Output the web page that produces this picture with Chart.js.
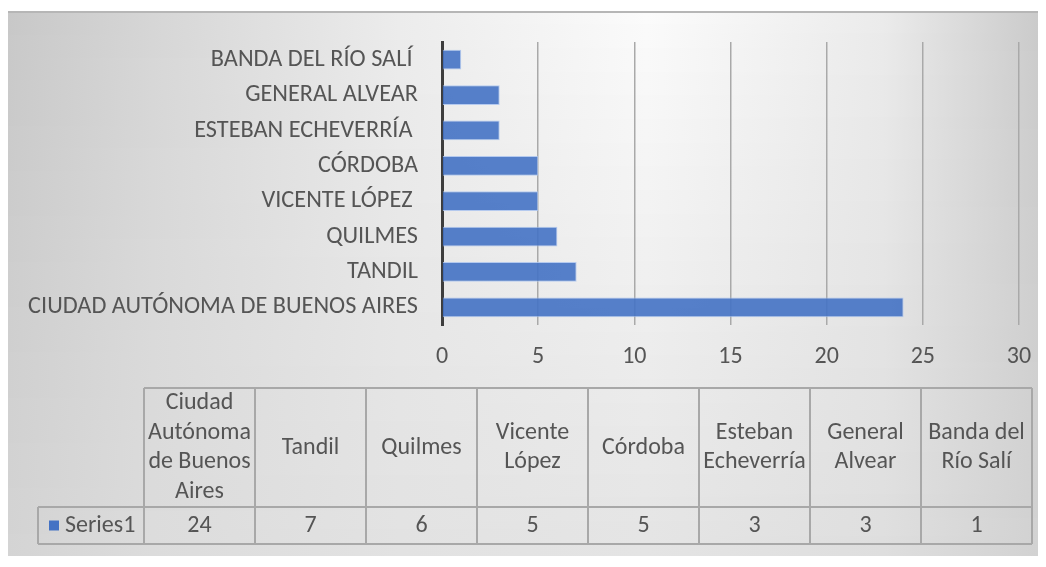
<!DOCTYPE html>
<html>
<head>
<meta charset="utf-8">
<script src="https://cdn.jsdelivr.net/npm/chart.js@4"></script>
<style>
  html, body { margin: 0; padding: 0; background: #ffffff; }
  #wrap { width: 1046px; height: 567px; }
</style>
</head>
<body>
<div id="wrap"><canvas id="chart" width="1046" height="567"></canvas></div>
<script>
// ---- data ----
const categories = ['Ciudad Autónoma de Buenos Aires', 'Tandil', 'Quilmes', 'Vicente López', 'Córdoba', 'Esteban Echeverría', 'General Alvear', 'Banda del Río Salí'];
const axisLabels = ['CIUDAD AUTÓNOMA DE BUENOS AIRES', 'TANDIL', 'QUILMES', 'VICENTE LÓPEZ ', 'CÓRDOBA', 'ESTEBAN ECHEVERRÍA ', 'GENERAL ALVEAR', 'BANDA DEL RÍO SALÍ '];
const series1 = [24, 7, 6, 5, 5, 3, 3, 1];
const seriesName = 'Series1';
const xTicks = [0, 5, 10, 15, 20, 25, 30];

// ---- style ----
const FONT = 'Carlito, Calibri, "Open Sans", sans-serif';
const TEXT = '#555555';
const BAR = '#4472C4';

Chart.defaults.font.family = FONT;
Chart.defaults.font.size = 24;
Chart.defaults.color = TEXT;

function lerp(a, b, t) { return a + (b - a) * t; }

const backgroundPlugin = {
  id: 'panelBackground',
  beforeDraw(chart) {
    const ctx = chart.ctx;
    const L = 8, T = 12, R = 1038, B = 556;
    ctx.save();
    ctx.fillStyle = '#ffffff';
    ctx.fillRect(0, 0, chart.width, chart.height);
    const stopsX = [0, 0.14, 0.38, 0.62, 0.85, 1];
    const topV = [200, 214, 236, 251, 235, 203];
    const botV = [212, 220, 226, 228, 222, 210];
    for (let y = T; y < B; y++) {
      const t = (y - T) / (B - T);
      const g = ctx.createLinearGradient(L, 0, R, 0);
      for (let i = 0; i < stopsX.length; i++) {
        const v = Math.round(lerp(topV[i], botV[i], t));
        g.addColorStop(stopsX[i], `rgb(${v},${v},${v})`);
      }
      ctx.fillStyle = g;
      ctx.fillRect(L, y, R - L, 1);
    }
    ctx.strokeStyle = '#b6b6b6';
    ctx.lineWidth = 2;
    ctx.beginPath();
    ctx.moveTo(L, T);
    ctx.lineTo(R, T);
    ctx.stroke();
    ctx.restore();
  }
};

const dataTablePlugin = {
  id: 'dataTable',
  afterDraw(chart) {
    const ctx = chart.ctx;
    const n = categories.length;
    const tableLeft = 144, tableRight = 1032;
    const legendLeft = 38;
    const top = 388, mid = 507, bottom = 544;
    const colW = (tableRight - tableLeft) / n;
    const lineH = 29.7;
    ctx.save();
    ctx.strokeStyle = '#a8a8a8';
    ctx.lineWidth = 2;
    ctx.beginPath();
    ctx.moveTo(tableLeft, top); ctx.lineTo(tableRight, top);
    ctx.moveTo(legendLeft, mid); ctx.lineTo(tableRight, mid);
    ctx.moveTo(legendLeft, bottom); ctx.lineTo(tableRight, bottom);
    ctx.moveTo(legendLeft, mid); ctx.lineTo(legendLeft, bottom);
    for (let i = 0; i <= n; i++) {
      const x = tableLeft + i * colW;
      ctx.moveTo(x, top); ctx.lineTo(x, bottom);
    }
    ctx.stroke();

    ctx.font = `24px ${FONT}`;
    ctx.fillStyle = TEXT;
    ctx.textAlign = 'center';
    ctx.textBaseline = 'middle';
    const maxW = colW - 4;
    function wrap(text) {
      const words = text.split(' ');
      const lines = [];
      let cur = '';
      for (const w of words) {
        const test = cur ? cur + ' ' + w : w;
        if (cur && ctx.measureText(test).width > maxW) { lines.push(cur); cur = w; }
        else cur = test;
      }
      if (cur) lines.push(cur);
      return lines;
    }
    const headCY = (top + mid) / 2;
    const valCY = (mid + bottom) / 2;
    categories.forEach((cat, i) => {
      const cx = tableLeft + (i + 0.5) * colW;
      const lines = wrap(cat);
      const start = headCY - (lines.length - 1) * lineH / 2;
      lines.forEach((ln, k) => ctx.fillText(ln, cx, start + k * lineH));
      ctx.fillText(String(series1[i]), cx, valCY);
    });
    ctx.fillStyle = BAR;
    ctx.fillRect(49, valCY - 5, 10, 10);
    ctx.fillStyle = TEXT;
    ctx.textAlign = 'left';
    ctx.fillText(seriesName, 65, valCY);
    ctx.restore();
  }
};

new Chart(document.getElementById('chart'), {
  type: 'bar',
  data: {
    labels: axisLabels,
    datasets: [{
      label: seriesName,
      data: series1,
      backgroundColor: 'rgba(68,114,196,0.9)',
      borderColor: 'rgba(170,195,238,0.85)',
      borderWidth: 1,
      barPercentage: 0.56,
      categoryPercentage: 1
    }]
  },
  options: {
    indexAxis: 'y',
    responsive: false,
    animation: false,
    devicePixelRatio: 1,
    layout: { padding: { left: 0, top: 42, right: 27, bottom: 0 } },
    plugins: { legend: { display: false }, tooltip: { enabled: false } },
    scales: {
      x: {
        min: 0,
        max: 30,
        afterBuildTicks(scale) { scale.ticks = xTicks.map(v => ({ value: v })); },
        afterFit(scale) { scale.height = 242; scale.paddingRight = 0; scale.paddingLeft = 0; },
        ticks: { padding: 18, color: TEXT, font: { size: 24 } },
        grid: {
          drawTicks: false,
          lineWidth: 1.5,
          color: (c) => (c.tick && c.tick.value === 0 ? 'rgba(0,0,0,0)' : '#a9a9a9')
        },
        border: { display: false }
      },
      y: {
        reverse: true,
        afterFit(scale) { scale.width = 442; },
        ticks: { padding: 24, color: TEXT, font: { size: 24.3 } },
        grid: { display: false, drawTicks: false },
        border: { display: true, color: '#3d3d3d', width: 3 }
      }
    }
  },
  plugins: [backgroundPlugin, dataTablePlugin]
});
</script>
</body>
</html>
